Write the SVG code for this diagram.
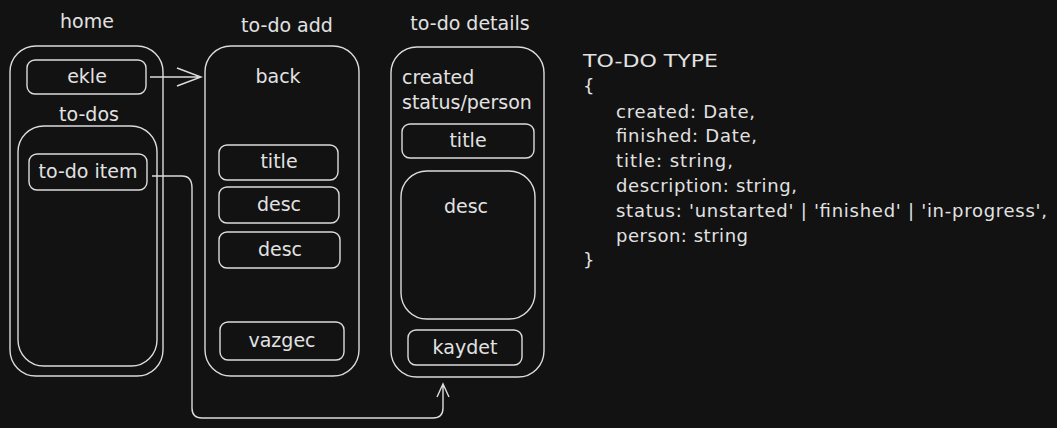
<svg xmlns="http://www.w3.org/2000/svg" width="1057" height="428" viewBox="0 0 1057 428">
<style>
.b{fill:none;stroke:#dcdcdc;stroke-width:1.4}
.t{font-family:"DejaVu Sans",sans-serif;font-size:19px;fill:#e2e2e2}
.c{text-anchor:middle}
.k{font-family:"DejaVu Sans",sans-serif;font-size:18px;fill:#e2e2e2}
</style>
<rect width="1057" height="428" fill="#121212"/>
<g id="home">
<text class="t c" x="87" y="28">home</text>
<rect class="b" x="10" y="46" width="153" height="330" rx="26"/>
</g>
<g id="ekle">
<rect class="b" x="27" y="60" width="119" height="34" rx="8"/>
<text class="t c" x="87" y="83">ekle</text>
</g>
<g id="todos">
<text class="t c" x="89" y="121">to-dos</text>
<rect class="b" x="18" y="126" width="139" height="240" rx="26"/>
</g>
<g id="todo-item">
<rect class="b" x="29" y="154" width="118" height="36" rx="8"/>
<text class="t c" x="88" y="178">to-do item</text>
</g>
<g id="todo-add">
<text class="t c" x="287" y="32">to-do add</text>
<rect class="b" x="205" y="46" width="154" height="330" rx="26"/>
<text class="t c" x="278" y="83">back</text>
</g>
<g id="add-title">
<rect class="b" x="219" y="145" width="119" height="35" rx="8"/>
<text class="t c" x="279" y="168">title</text>
</g>
<g id="add-desc1">
<rect class="b" x="219" y="187" width="120" height="36" rx="8"/>
<text class="t c" x="279" y="211">desc</text>
</g>
<g id="add-desc2">
<rect class="b" x="219" y="232" width="121" height="36" rx="8"/>
<text class="t c" x="280" y="256">desc</text>
</g>
<g id="vazgec">
<rect class="b" x="220" y="322" width="124" height="38" rx="8"/>
<text class="t c" x="282" y="347">vazgec</text>
</g>
<g id="todo-details">
<text class="t c" x="470" y="30">to-do details</text>
<rect class="b" x="391" y="47" width="153" height="330" rx="26"/>
<text class="t" x="402" y="84">created</text>
<text class="t" x="402" y="109">status/person</text>
</g>
<g id="det-title">
<rect class="b" x="402" y="124" width="132" height="34" rx="8"/>
<text class="t c" x="468" y="147">title</text>
</g>
<g id="det-desc">
<rect class="b" x="401" y="171" width="134" height="148" rx="26"/>
<text class="t c" x="466" y="213">desc</text>
</g>
<g id="kaydet">
<rect class="b" x="408" y="330" width="114" height="35" rx="8"/>
<text class="t c" x="465" y="354">kaydet</text>
</g>
<g id="todo-type">
<text class="k" x="583" y="67" textLength="135" lengthAdjust="spacingAndGlyphs">TO-DO TYPE</text>
<text class="k" x="583" y="92">{</text>
<text class="k" x="616" y="118" textLength="139">created: Date,</text>
<text class="k" x="616" y="142" textLength="141">finished: Date,</text>
<text class="k" x="616" y="167" textLength="117">title: string,</text>
<text class="k" x="616" y="192" textLength="181">description: string,</text>
<text class="k" x="616" y="217" textLength="431">status: 'unstarted' | 'finished' | 'in-progress',</text>
<text class="k" x="616" y="242" textLength="132">person: string</text>
<text class="k" x="583" y="266">}</text>
</g>
<g id="connectors">
<path class="b" d="M150 77 L201 77 M177 68 L201 77 L177 86"/>
<path class="b" d="M152 176 L182 176 Q192 176 192 188 L192 408 Q192 418 202 418 L433 418 Q443 418 443 408 L443 384 M437 397 L443 384 L449 397"/>
</g>
</svg>
